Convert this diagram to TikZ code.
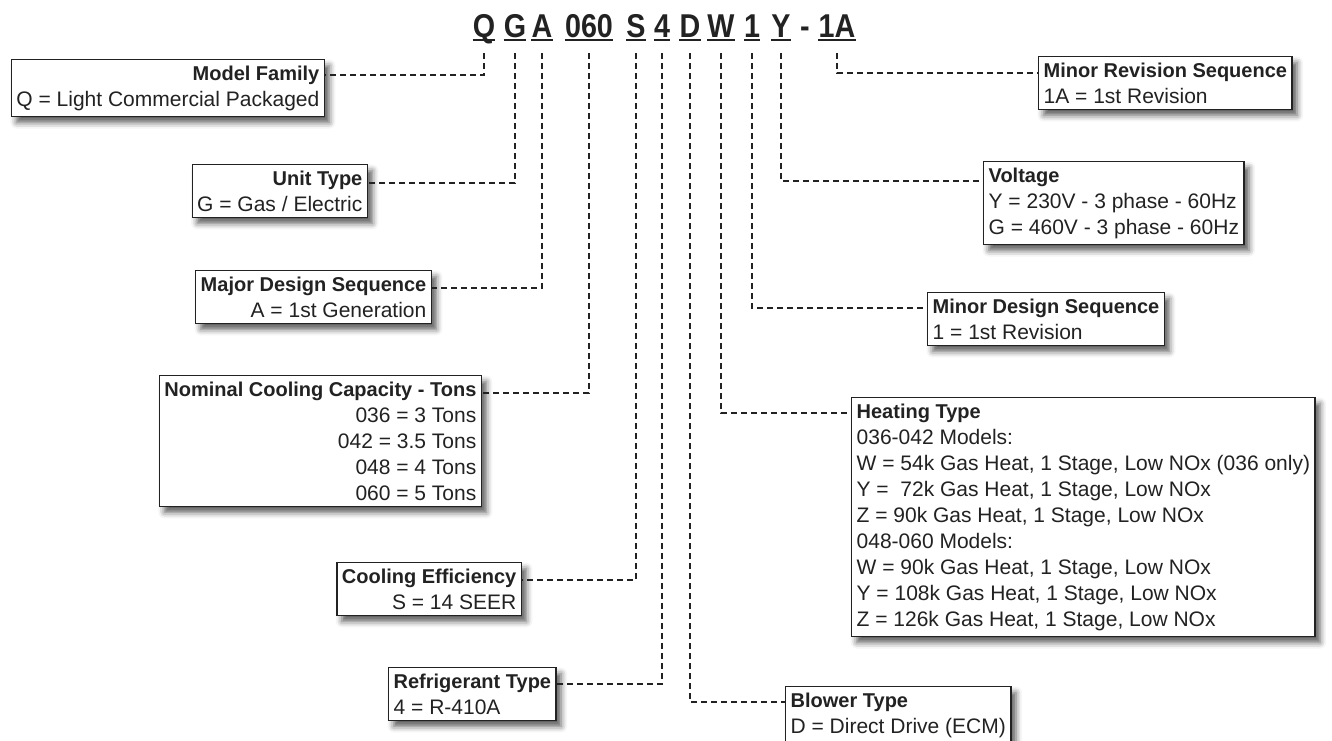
\documentclass[tikz,border=0pt]{standalone}
\usepackage{fontspec}
\setmainfont{Liberation Sans}
\newfontfamily\codefont{Liberation Sans}[FakeStretch=0.87]
\usetikzlibrary{shadows.blur}
\definecolor{ink}{HTML}{222222}
\tikzset{
 box/.style={draw=ink, line width=1.3pt, fill=white, text=ink, inner xsep=5pt, inner ysep=6pt,
   font=\fontsize{21}{26}\selectfont,
   blur shadow={shadow xshift=5pt, shadow yshift=-6pt, shadow blur radius=6pt, shadow opacity=65}},
 lbox/.style={box, align=left, anchor=north west},
 rbox/.style={box, align=right, anchor=north east},
 code/.style={font=\codefont\fontsize{33}{36}\selectfont\bfseries, text=ink, inner sep=0pt, anchor=base},
 uline/.style={line width=2pt, draw=ink},
 conn/.style={draw=ink, line width=2pt, dash pattern=on 6pt off 4pt},
}
\newcommand\ttl[1]{{\fontsize{20}{26}\selectfont\bfseries #1}}
\begin{document}
\begin{tikzpicture}[x=1pt,y=-1pt]
\useasboundingbox (0,0) rectangle (1332,740);
% code tokens
\node[code] (q) at (484,37) {Q};
\node[code] (g) at (515,37) {G};
\node[code] (a) at (542,37) {A};
\node[code] (num) at (589,37) {060};
\node[code] (s) at (636,37) {S};
\node[code] (four) at (662,37) {4};
\node[code] (d) at (690,37) {D};
\node[code] (w) at (721,37) {W};
\node[code] (one) at (752,37) {1};
\node[code] (y) at (781,37) {Y};
\node[code] (hy) at (805,37) {-};
\node[code] (rev) at (837,37) {1A};
\foreach \n in {q,g,a,num,s,four,d,w,one,y,rev}
  \draw[uline] ([yshift=-3pt]\n.base west) -- ([yshift=-3pt]\n.base east);
% left boxes
\node[rbox] (mf) at (325,59) {\ttl{Model Family}\\Q = Light Commercial Packaged};
\node[rbox] (ut) at (368,164) {\ttl{Unit Type}\\G = Gas / Electric};
\node[rbox] (mds) at (432,270) {\ttl{Major Design Sequence}\\A = 1st Generation};
\node[rbox] (nc) at (482,375) {\ttl{Nominal Cooling Capacity - Tons}\\036 = 3 Tons\\042 = 3.5 Tons\\048 = 4 Tons\\060 = 5 Tons};
\node[rbox] (ce) at (522,562) {\ttl{Cooling Efficiency}\\S = 14 SEER};
\node[lbox] (rt) at (388,667) {\ttl{Refrigerant Type}\\4 = R-410A};
% right boxes
\node[lbox] (mr) at (1038,56) {\ttl{Minor Revision Sequence}\\1A = 1st Revision};
\node[lbox] (vo) at (983,161) {\ttl{Voltage}\\Y = 230V - 3 phase - 60Hz\\G = 460V - 3 phase - 60Hz};
\node[lbox] (mi) at (927,292) {\ttl{Minor Design Sequence}\\1 = 1st Revision};
\node[lbox] (ht) at (851,397) {\ttl{Heating Type}\\036-042 Models:\\W = 54k Gas Heat, 1 Stage, Low NOx (036 only)\\Y =\ \ 72k Gas Heat, 1 Stage, Low NOx\\Z = 90k Gas Heat, 1 Stage, Low NOx\\048-060 Models:\\W = 90k Gas Heat, 1 Stage, Low NOx\\Y = 108k Gas Heat, 1 Stage, Low NOx\\Z = 126k Gas Heat, 1 Stage, Low NOx};
\node[lbox] (bt) at (785,686) {\ttl{Blower Type}\\D = Direct Drive (ECM)};
% connectors
\draw[conn] ([yshift=-16pt]q.base) |- ([yshift=-16pt]mf.north east);
\draw[conn] ([yshift=-16pt]g.base) |- ([yshift=-19pt]ut.north east);
\draw[conn] ([yshift=-16pt]a.base) |- ([yshift=-18pt]mds.north east);
\draw[conn] ([yshift=-16pt]num.base) |- ([yshift=-18pt]nc.north east);
\draw[conn] ([yshift=-16pt]s.base) |- ([yshift=-18pt]ce.north east);
\draw[conn] ([yshift=-16pt]four.base) |- ([yshift=-17pt]rt.north east);
\draw[conn] ([yshift=-16pt]rev.base) |- ([yshift=-17pt]mr.north west);
\draw[conn] ([yshift=-16pt]y.base) |- ([yshift=-20pt]vo.north west);
\draw[conn] ([yshift=-16pt]one.base) |- ([yshift=-16pt]mi.north west);
\draw[conn] ([yshift=-16pt]w.base) |- ([yshift=-16pt]ht.north west);
\draw[conn] ([yshift=-16pt]d.base) |- ([yshift=-16pt]bt.north west);
\end{tikzpicture}
\end{document}
